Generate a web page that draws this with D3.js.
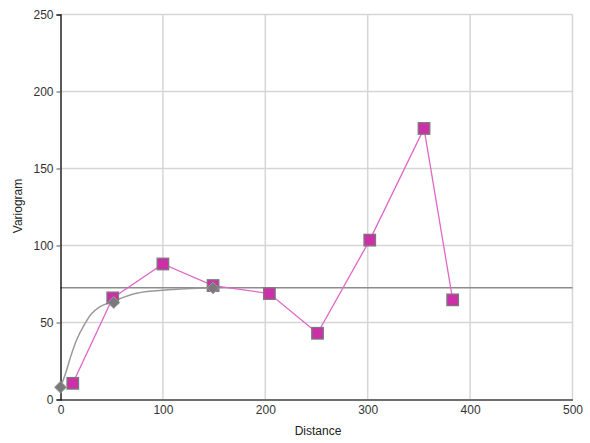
<!DOCTYPE html>
<html>
<head>
<meta charset="utf-8">
<script src="https://cdn.jsdelivr.net/npm/d3@7"></script>
<style>
  html, body { margin: 0; padding: 0; background: #fff; }
  svg { display: block; font-family: "Liberation Sans", Arial, sans-serif; }
</style>
</head>
<body>
<svg id="chart" width="590" height="443"></svg>
<script>
// Experimental semivariogram (lag distance, semivariance)
const lagDistance = [12, 51, 100, 149, 204, 251, 302, 355, 383];
const semivariance = [10.5, 66, 88, 74, 68.8, 43, 103.5, 176, 64.7];

// Fitted model curve, sampled along distance
const modelDistance = [0, 5, 10, 15.6, 24, 30, 38, 45, 52, 62, 73, 87, 100, 118, 136, 149];
const modelValue = [8, 17, 28, 38.5, 49.5, 55.5, 60, 62.2, 63.8, 66.5, 68.8, 70.3, 71, 71.8, 72.3, 72.5];

// Model markers (nugget, intermediate, sill)
const markerDistance = [0, 52, 149];
const markerValue = [8, 63, 72.5];

// Sill level
const sill = 72.5;

const xTicks = [0, 100, 200, 300, 400, 500];
const yTicks = [0, 50, 100, 150, 200, 250];

const svg = d3.select("#chart");
const plotLeft = 60.5, plotRight = 572.5, plotTop = 14.5, plotBottom = 399.5;

const x = d3.scaleLinear().domain([0, 500]).range([plotLeft, plotRight]);
const y = d3.scaleLinear().domain([0, 250]).range([plotBottom, plotTop]);

// Grid
const grid = svg.append("g");
grid.selectAll("line.h").data(yTicks.filter(d => d > 0)).join("line")
  .attr("x1", plotLeft).attr("x2", plotRight)
  .attr("y1", d => y(d)).attr("y2", d => y(d))
  .attr("stroke", "#d6d6d6").attr("stroke-width", 1.5);
grid.selectAll("line.v").data(xTicks.filter(d => d > 0)).join("line")
  .attr("y1", plotTop).attr("y2", plotBottom)
  .attr("x1", d => x(d)).attr("x2", d => x(d))
  .attr("stroke", "#d6d6d6").attr("stroke-width", 1.5);

// Sill line
svg.append("line")
  .attr("x1", x(0)).attr("x2", x(500))
  .attr("y1", y(sill)).attr("y2", y(sill))
  .attr("stroke", "#8c8c8c").attr("stroke-width", 1.5);

// Axes
const xAxis = svg.append("g").attr("transform", `translate(0,${plotBottom})`)
  .call(d3.axisBottom(x).tickValues(xTicks).tickSize(0).tickPadding(6));
xAxis.select(".domain").attr("stroke", "#6e6e6e").attr("stroke-width", 2);
xAxis.selectAll("text").attr("fill", "#333").attr("font-size", 12);

const yAxis = svg.append("g").attr("transform", `translate(${plotLeft},0)`)
  .call(d3.axisLeft(y).tickValues(yTicks).tickSize(4).tickPadding(3));
yAxis.select(".domain").attr("stroke", "#000").attr("stroke-width", 1.3);
yAxis.selectAll(".tick line").attr("stroke", "#555");
yAxis.selectAll("text").attr("fill", "#333").attr("font-size", 12);

// Axis titles
svg.append("text").attr("x", 318).attr("y", 435)
  .attr("text-anchor", "middle").attr("font-size", 12).attr("fill", "#222")
  .text("Distance");
svg.append("text").attr("transform", "translate(22,206) rotate(-90)")
  .attr("text-anchor", "middle").attr("font-size", 12).attr("fill", "#222")
  .text("Variogram");

// Model curve
const modelPts = modelDistance.map((d, i) => [d, modelValue[i]]);
svg.append("path")
  .datum(modelPts)
  .attr("d", d3.line().x(d => x(d[0])).y(d => y(d[1])).curve(d3.curveMonotoneX))
  .attr("fill", "none").attr("stroke", "#9a9a9a").attr("stroke-width", 1.5);

// Experimental line
const expPts = lagDistance.map((d, i) => [d, semivariance[i]]);
svg.append("path")
  .datum(expPts)
  .attr("d", d3.line().x(d => x(d[0])).y(d => y(d[1])))
  .attr("fill", "none").attr("stroke", "#e068c8").attr("stroke-width", 1.3);

// Experimental markers (squares)
const s = 11.5;
svg.selectAll("rect.pt").data(expPts).join("rect")
  .attr("class", "pt")
  .attr("x", d => x(d[0]) - s / 2).attr("y", d => y(d[1]) - s / 2)
  .attr("width", s).attr("height", s)
  .attr("fill", "#cc2fa8").attr("stroke", "#7a7a7a").attr("stroke-width", 1.3);

// Model markers (diamonds) drawn on top of the squares
svg.selectAll("path.diamond").data(markerDistance.map((d, i) => [d, markerValue[i]])).join("path")
  .attr("class", "diamond")
  .attr("transform", d => `translate(${x(d[0])},${y(d[1])})`)
  .attr("d", d3.symbol().type(d3.symbolDiamond2).size(90))
  .attr("fill", "#7a7a7a").attr("stroke", "#9a9a9a").attr("stroke-width", 1);
</script>
</body>
</html>
